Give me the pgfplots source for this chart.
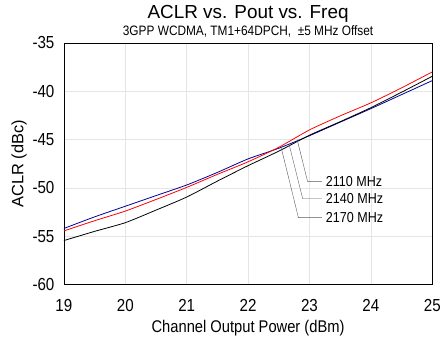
\documentclass[border=0pt]{standalone}
\usepackage{pgfplots}
\pgfplotsset{compat=1.18}
\usepackage{fontspec}
\setmainfont{Liberation Sans}[FakeStretch=0.87]
\newfontfamily\plainsans{Liberation Sans}
\begin{document}
\begin{tikzpicture}
\begin{axis}[
    name=ax,
    scale only axis,
    width=369bp, height=242bp,
    xmin=19, xmax=25, ymin=-60, ymax=-35,
    xtick={19,...,25}, ytick={-60,-55,...,-35},
    grid=major,
    major grid style={gray!20},
    tick style={draw=none},
    axis line style={black},
    /pgf/number format/assume math mode=true,
    ticklabel style={font=\fontsize{17.5}{19}\selectfont},
    yticklabel style={xshift=-6bp},
    xticklabel style={yshift=-11bp},
    xlabel={Channel Output Power (dBm)},
    ylabel={ACLR (dBc)},
    xlabel style={font=\fontsize{17}{19}\selectfont, yshift=-2bp},
    ylabel style={font=\plainsans\fontsize{16.5}{18}\selectfont, yshift=-1bp},
    title={{\plainsans\fontsize{19}{20}\selectfont ACLR vs. Pout vs. Freq}\\[2pt]{\fontsize{13.7}{14}\selectfont 3GPP WCDMA, TM1+64DPCH, \ \textpm5 MHz Offset}},
    title style={align=center, yshift=-4bp},
    every axis plot/.append style={thick, smooth, tension=0.4},
]
% 2110 MHz
\addplot[blue!60!black] coordinates {
    (19,-54.2) (19.5,-53.0) (20,-51.9) (20.5,-50.8) (21,-49.7) (21.5,-48.4)
    (22,-47.0) (22.5,-45.9) (23,-44.6) (23.5,-43.2) (24,-41.8) (24.5,-40.35) (25,-38.9)
};
% 2140 MHz
\addplot[red] coordinates {
    (19,-54.45) (19.5,-53.4) (20,-52.4) (20.5,-51.2) (21,-49.95) (21.5,-48.6)
    (22,-47.3) (22.5,-45.8) (23,-44.0) (23.5,-42.55) (24,-41.2) (24.5,-39.65) (25,-38.0)
};
% 2170 MHz
\addplot[black] coordinates {
    (19,-55.45) (19.5,-54.5) (20,-53.6) (20.5,-52.3) (21,-50.95) (21.5,-49.3)
    (22,-47.7) (22.5,-46.2) (23,-44.55) (23.5,-43.15) (24,-41.7) (24.5,-40.1) (25,-38.45)
};
\draw[gray!70!black] (axis cs:22.80,-45.02) -- (axis cs:22.97,-49.36) -- (axis cs:23.20,-49.36)
    node[anchor=west, black, font=\fontsize{14.5}{16}\selectfont, inner sep=4pt] {2110 MHz};
\draw[gray!70!black] (axis cs:22.67,-45.54) -- (axis cs:22.89,-51.12) -- (axis cs:23.20,-51.12)
    node[anchor=west, black, font=\fontsize{14.5}{16}\selectfont, inner sep=4pt] {2140 MHz};
\draw[gray!70!black] (axis cs:22.54,-45.85) -- (axis cs:22.82,-53.08) -- (axis cs:23.20,-53.08)
    node[anchor=west, black, font=\fontsize{14.5}{16}\selectfont, inner sep=4pt] {2170 MHz};
\end{axis}
\path (ax.north east) -- ++(11bp,43bp);
\path (ax.south west) -- ++(-64bp,-57bp);
\end{tikzpicture}
\end{document}
